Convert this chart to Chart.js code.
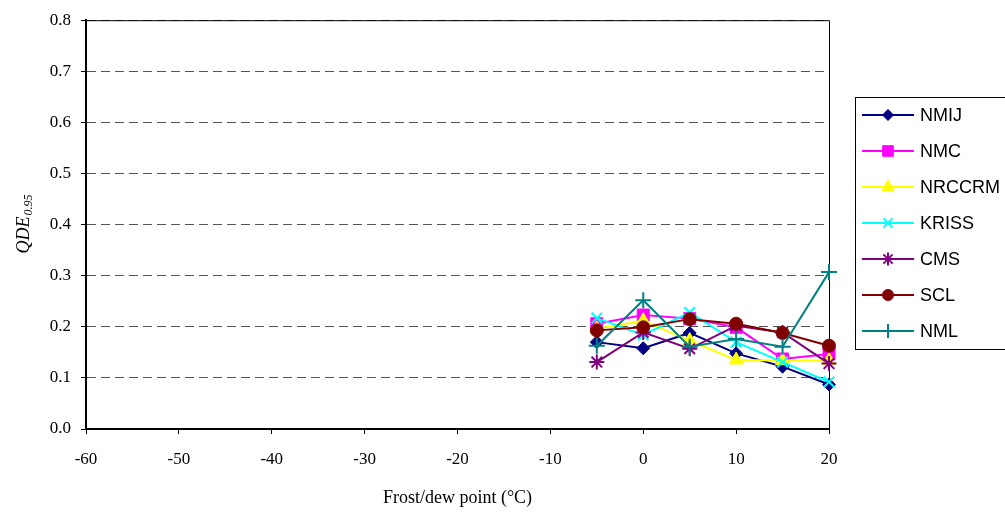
<!DOCTYPE html>
<html>
<head>
<meta charset="utf-8">
<script src="https://cdn.jsdelivr.net/npm/chart.js@4.4.1/dist/chart.umd.min.js"></script>
<style>
  html, body { margin: 0; padding: 0; background: #fff; }
  #wrap { width: 1005px; height: 515px; position: relative; }
</style>
</head>
<body>
<div id="wrap"><canvas id="chartQde"></canvas></div>
<script>
// Frost/dew point (°C) where each lab reports
const pontos = [-5, 0, 5, 10, 15, 20];

// QDE 0.95 per laboratory
const nmij   = [0.170, 0.158, 0.188, 0.148, 0.122, 0.087];
const nmc    = [0.206, 0.223, 0.216, 0.199, 0.137, 0.147];
const nrccrm = [0.196, 0.212, 0.173, 0.135, 0.134, 0.134];
const kriss  = [0.217, 0.184, 0.228, 0.170, 0.131, 0.092];
const cms    = [0.131, 0.189, 0.157, 0.202, 0.189, 0.128];
const scl    = [0.193, 0.199, 0.215, 0.206, 0.188, 0.163];
const nml    = [0.163, 0.252, 0.161, 0.176, 0.161, 0.307];

const laboratorios = ['NMIJ', 'NMC', 'NRCCRM', 'KRISS', 'CMS', 'SCL', 'NML'];

const xMin = -60, xMax = 20, xPasso = 10;
const yMin = 0, yMax = 0.8, yPasso = 0.1;

const serif = '"Liberation Serif", "Times New Roman", serif';
const sans = '"Liberation Sans", Arial, sans-serif';

const estilos = [
  { cor: '#000080', ponto: 'rectRot', raio: 6.5, borda: 1 },
  { cor: '#ff00ff', ponto: 'rect', raio: 8.5, borda: 1 },
  { cor: '#ffff00', ponto: 'triangle', raio: 8, borda: 1 },
  { cor: '#00ffff', ponto: 'crossRot', raio: 7.5, borda: 2 },
  { cor: '#800080', ponto: 'star', raio: 7.5, borda: 2 },
  { cor: '#800000', ponto: 'circle', raio: 6.5, borda: 1 },
  { cor: '#008080', ponto: 'cross', raio: 8, borda: 2 }
];

const series = [nmij, nmc, nrccrm, kriss, cms, scl, nml];

const datasets = series.map((vals, i) => ({
  label: laboratorios[i],
  data: pontos.map((x, k) => ({ x: x, y: vals[k] })),
  borderColor: estilos[i].cor,
  backgroundColor: estilos[i].cor,
  borderWidth: 2,
  pointStyle: estilos[i].ponto,
  pointRadius: estilos[i].raio,
  pointBorderWidth: estilos[i].borda,
  tension: 0,
  clip: false,
  order: series.length - i   // later series painted on top
}));

// moldura da área de plotagem + título do eixo Y com subscrito
const extras = {
  id: 'extras',
  beforeDatasetsDraw(chart) {
    const { ctx, chartArea: a } = chart;
    ctx.save();
    ctx.strokeStyle = '#000';
    ctx.lineWidth = 1;
    ctx.beginPath();
    ctx.moveTo(a.left, a.top + 0.5);
    ctx.lineTo(a.right + 0.5, a.top + 0.5);
    ctx.lineTo(a.right + 0.5, a.bottom);
    ctx.stroke();
    ctx.restore();
  },
  afterDraw(chart) {
    const { ctx, chartArea: a } = chart;
    ctx.save();
    // QDE_0.95 rotacionado
    ctx.translate(24, (a.top + a.bottom) / 2);
    ctx.rotate(-Math.PI / 2);
    ctx.fillStyle = '#000';
    ctx.textBaseline = 'middle';
    ctx.font = 'italic 18px ' + serif;
    const w1 = ctx.measureText('QDE').width;
    ctx.font = 'italic 12px ' + serif;
    const w2 = ctx.measureText('0.95').width;
    const x0 = -(w1 + w2) / 2;
    ctx.font = 'italic 18px ' + serif;
    ctx.fillText('QDE', x0, 0);
    ctx.font = 'italic 12px ' + serif;
    ctx.fillText('0.95', x0 + w1 + 1, 5);
    ctx.restore();
  }
};

// legenda em caixa à direita
const legenda = {
  id: 'legenda',
  afterDraw(chart) {
    const { ctx } = chart;
    const bx = 855.5, by = 97.5, bw = 150, bh = 252;
    ctx.save();
    ctx.fillStyle = '#fff';
    ctx.fillRect(bx, by, bw, bh);
    ctx.strokeStyle = '#000';
    ctx.lineWidth = 1;
    ctx.strokeRect(bx, by, bw, bh);
    chart.data.datasets.forEach((ds, i) => {
      const y = 115 + i * 36;
      ctx.strokeStyle = ds.borderColor;
      ctx.lineWidth = 2;
      ctx.beginPath();
      ctx.moveTo(862, y);
      ctx.lineTo(914, y);
      ctx.stroke();
      ctx.fillStyle = ds.backgroundColor;
      ctx.lineWidth = ds.pointBorderWidth;
      Chart.helpers.drawPoint(ctx, { pointStyle: ds.pointStyle, radius: ds.pointRadius - 1, borderWidth: ds.pointBorderWidth }, 888, y);
      ctx.fillStyle = '#000';
      ctx.font = '18px ' + sans;
      ctx.textBaseline = 'middle';
      ctx.fillText(ds.label, 920, y + 1);
    });
    ctx.restore();
  }
};

new Chart(document.getElementById('chartQde'), {
  type: 'line',
  data: { datasets: datasets },
  options: {
    responsive: true,
    maintainAspectRatio: false,
    animation: false,
    layout: { padding: { left: 0, right: 176, top: 17, bottom: 6 } },
    plugins: {
      legend: { display: false },
      tooltip: { enabled: false }
    },
    scales: {
      x: {
        type: 'linear',
        min: xMin, max: xMax,
        ticks: {
          stepSize: xPasso,
          color: '#000',
          font: { family: serif, size: 17 },
          padding: 15,
          maxRotation: 0
        },
        grid: {
          drawOnChartArea: false,
          drawTicks: true,
          tickLength: 5,
          tickColor: '#000'
        },
        border: { color: '#000', width: 2 },
        title: {
          display: true,
          text: 'Frost/dew point (°C)',
          color: '#000',
          font: { family: serif, size: 18 },
          padding: { top: 8, bottom: 0 }
        },
        afterFit(s) { s.height = 515 - 429 - 6; }
      },
      y: {
        min: yMin, max: yMax,
        ticks: {
          stepSize: yPasso,
          color: '#000',
          font: { family: serif, size: 17 },
          padding: 10,
          callback: v => Number(v).toFixed(1)
        },
        grid: {
          color: '#555',
          lineWidth: 1,
          tickLength: 5,
          tickColor: '#000',
          tickBorderDash: []
        },
        border: { color: '#000', width: 2, dash: [9, 5] },
        afterFit(s) { s.width = 86; }
      }
    }
  },
  plugins: [extras, legenda]
});
</script>
</body>
</html>
